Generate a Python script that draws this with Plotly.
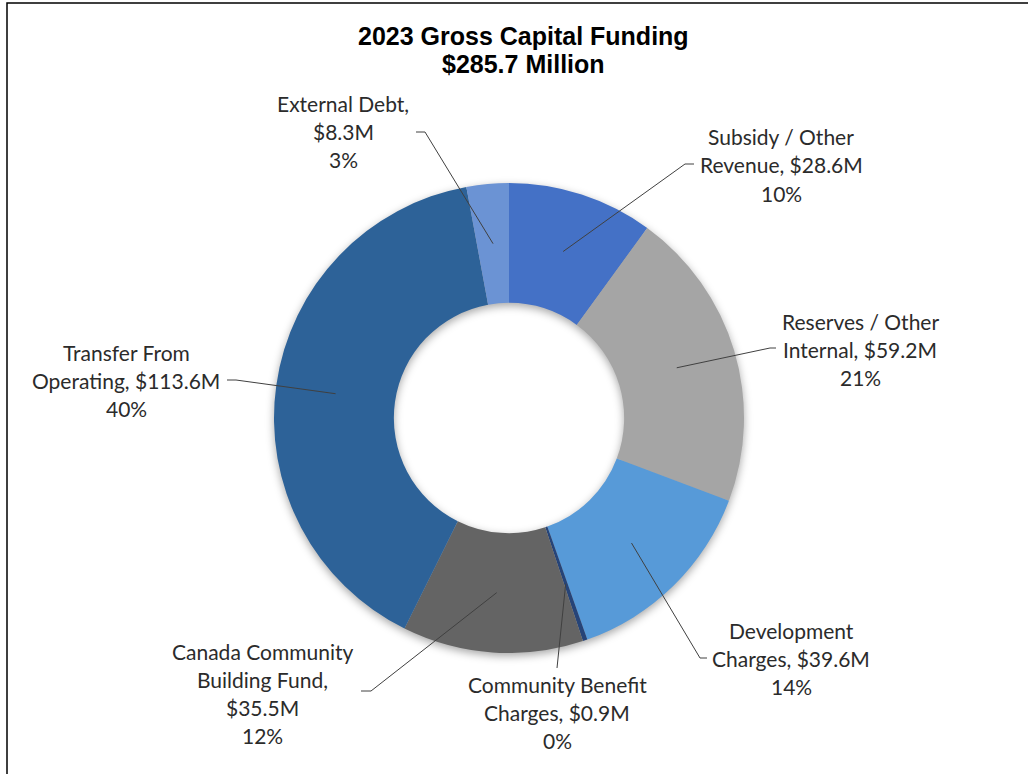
import math
import plotly.graph_objects as go

# ---- data ----
categories = ["Subsidy / Other Revenue", "Reserves / Other Internal", "Development Charges",
              "Community Benefit Charges", "Canada Community Building Fund",
              "Transfer From Operating", "External Debt"]
values = [28.6, 59.2, 39.6, 0.9, 35.5, 113.6, 8.3]
title_lines = ["2023 Gross Capital Funding", "$285.7 Million"]

# ---- styling / layout ----
W, H = 1028, 774
colors = ["#4471c6", "#a5a5a5", "#579ad8", "#264478", "#646464", "#2d6298", "#6b93d4"]
# how each label wraps
label_wrap = [("Subsidy / Other", "Revenue, ${v}M"),
              ("Reserves / Other", "Internal, ${v}M"),
              ("Development", "Charges, ${v}M"),
              ("Community Benefit", "Charges, ${v}M"),
              ("Canada Community", "Building Fund,", "${v}M"),
              ("Transfer From", "Operating, ${v}M"),
              ("External Debt,", "${v}M")]
label_cx = [781, 860, 791, 557, 262, 126, 343]
label_top = [137, 321, 630, 684, 651, 352, 104]
line_gap = 28
elbow = [(685, 164), (770, 348), (700, 658), (557, 668), (371, 691), (236, 380), (425, 132)]
end = [(694, 164), (776, 348), (707, 658), (557, 668), (361, 691), (227, 380), (416, 132)]

cx, cy, R = 509, 418, 235
hole = 0.49

def px(x):
    return x / W

def py(y):
    return 1 - y / H

fig = go.Figure(go.Pie(
    labels=categories, values=values, sort=False, direction="clockwise", rotation=0,
    hole=hole, textinfo="none", hoverinfo="label+value+percent",
    marker=dict(colors=colors, line=dict(width=0)),
    domain=dict(x=[px(cx - R), px(cx + R)], y=[py(cy + R), py(cy - R)]),
    showlegend=False,
))

annotations = []
shapes = []
total = sum(values)
cum = 0.0
r_mid = R * (1 + hole) / 2
for i, v in enumerate(values):
    mid = (cum + v / 2) / total * 2 * math.pi
    cum += v
    ix = cx + r_mid * math.sin(mid)
    iy = cy - r_mid * math.cos(mid)
    pct = f"{round(v / total * 100)}%"
    lines = [s.replace("{v}", f"{v}") for s in label_wrap[i]] + [pct]
    for k, t in enumerate(lines):
        annotations.append(dict(
            x=px(label_cx[i]), y=py(label_top[i] + k * line_gap), xref="paper", yref="paper",
            text=t, showarrow=False, xanchor="center", yanchor="middle",
            font=dict(family="Lato", size=21, color="#2b2b2b")))
    ex, ey = elbow[i]
    fx, fy = end[i]
    path = f"M {px(ix)} {py(iy)} L {px(ex)} {py(ey)} L {px(fx)} {py(fy)}"
    shapes.append(dict(type="path", path=path, xref="paper", yref="paper",
                       line=dict(color="#404040", width=1)))

for k, t in enumerate(title_lines):
    annotations.append(dict(
        x=px(523), y=py(36 + k * 28), xref="paper", yref="paper", text=f"<b>{t}</b>",
        showarrow=False, xanchor="center", yanchor="middle",
        font=dict(family="Liberation Sans", size=25, color="#000000")))

# border frame
shapes.append(dict(type="rect", xref="paper", yref="paper", x0=px(7), x1=1.05,
                   y0=-0.05, y1=py(3), line=dict(color="#000000", width=1.5),
                   fillcolor="rgba(0,0,0,0)", layer="above"))

fig.update_layout(width=W, height=H, margin=dict(l=0, r=0, t=0, b=0),
                  paper_bgcolor="white", plot_bgcolor="white",
                  annotations=annotations, shapes=shapes)
fig.write_html("out.html", config={"displayModeBar": False},
               post_script=("document.body.style.margin='0';"
                            "document.body.style.overflow='hidden';"
                            "var pl=document.querySelector('.pielayer');"
                            "if(pl){pl.style.filter='drop-shadow(0px 3px 4px rgba(0,0,0,0.35))';}"))
